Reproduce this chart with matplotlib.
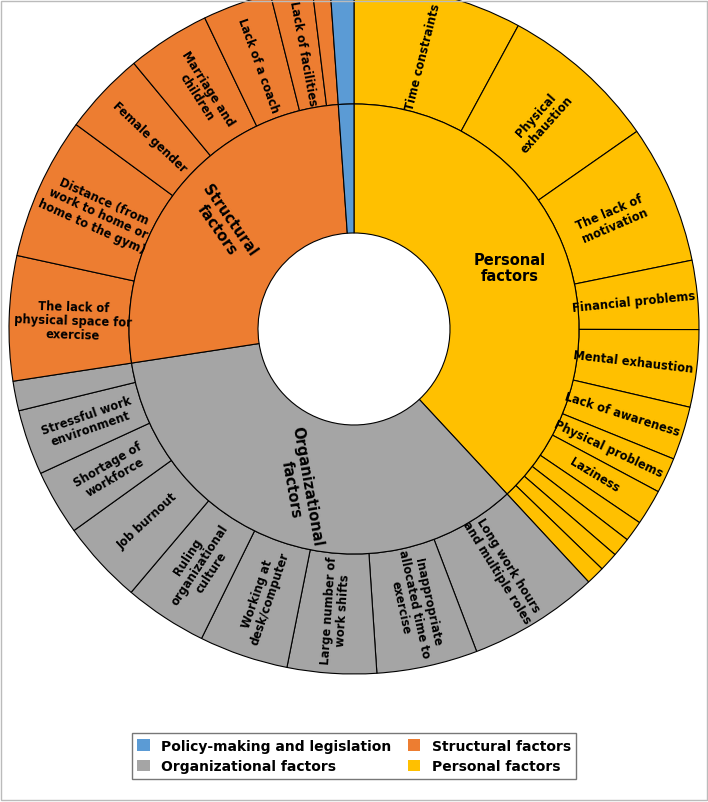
import matplotlib
matplotlib.use("Agg")
import matplotlib.pyplot as plt
from matplotlib.patches import Patch
import numpy as np

groups = ["Personal factors", "Organizational factors", "Structural factors", "Policy-making and legislation"]
group_labels = ["Personal\nfactors", "Organizational\nfactors", "Structural\nfactors", ""]
group_colors = ["#FFC000", "#A5A5A5", "#ED7D31", "#5B9BD5"]

personal_labels = ["Time constraints", "Physical\nexhaustion", "The lack of\nmotivation", "Financial problems",
                   "Mental exhaustion", "Lack of awareness", "Physical problems", "Laziness", "", "", "", ""]
personal_values = [28.4, 26.6, 23.4, 11.6, 13, 9, 6, 6, 3.5, 3.2, 3.2, 3.1]

org_labels = ["Long work hours\nand multiple roles", "Inappropriate\nallocated time to\nexercise", "Large number of\nwork shifts",
              "Working at\ndesk/computer", "Ruling\norganizational\nculture", "Job burnout", "Shortage of\nworkforce",
              "Stressful work\nenvironment", ""]
org_values = [22, 17, 15, 15, 14, 14, 11, 11, 5]

struct_labels = ["The lack of\nphysical space for\nexercise", "Distance (from\nwork to home or\nhome to the gym)",
                 "Female gender", "Marriage and\nchildren", "Lack of a coach", "Lack of facilities", ""]
struct_values = [21, 24, 14, 14, 11.6, 7, 3]

policy_labels = [""]
policy_values = [4]

outer_labels = personal_labels + org_labels + struct_labels + policy_labels
outer_values = personal_values + org_values + struct_values + policy_values
outer_colors = ([group_colors[0]] * len(personal_values) + [group_colors[1]] * len(org_values)
                + [group_colors[2]] * len(struct_values) + [group_colors[3]] * len(policy_values))
inner_values = [sum(personal_values), sum(org_values), sum(struct_values), sum(policy_values)]

W, H = 708, 803
fig = plt.figure(figsize=(W / 100, H / 100), dpi=100)
cx, cy, R = 354, 330, 345
ax = fig.add_axes([(cx - R) / W, (H - cy - R) / H, 2 * R / W, 2 * R / H])
ax.set_aspect("equal")
ax.axis("off")

r_mid = 225 / 345
r_hole = 96 / 345
wp = dict(edgecolor="black", linewidth=0.8)
w_out, _ = ax.pie(outer_values, radius=1.0, colors=outer_colors, startangle=90, counterclock=False,
                  wedgeprops=dict(width=1 - r_mid, **wp))
w_in, _ = ax.pie(inner_values, radius=r_mid, colors=group_colors, startangle=90, counterclock=False,
                 wedgeprops=dict(width=r_mid - r_hole, **wp))
ax.set_xlim(-1.0, 1.0)
ax.set_ylim(-1.0, 1.0)

def place(wedges, labels, rad, fs, rots=None):
    for i, (w, lab) in enumerate(zip(wedges, labels)):
        if not lab:
            continue
        ang = (w.theta1 + w.theta2) / 2
        a = np.deg2rad(ang)
        if rots is not None:
            rot = rots[i]
        else:
            ang_n = (ang + 180) % 360 - 180
            rot = ang_n if -90 <= ang_n <= 90 else ang_n - 180 if ang_n > 0 else ang_n + 180
        ax.text(rad * np.cos(a), rad * np.sin(a), lab, ha="center", va="center", rotation=rot,
                rotation_mode="anchor", fontsize=fs, fontweight="bold", linespacing=1.1)

place(w_out, outer_labels, 0.815, 8.3)
place(w_in, group_labels, (r_mid + r_hole) / 2 + 0.02, 10.5, rots=[0, -80, -55, 0])

handles = [Patch(facecolor=c, edgecolor="none") for c in group_colors]
order = [3, 1, 2, 0]
fig.legend([handles[i] for i in order], [groups[i] for i in order], ncol=2, loc="center",
           bbox_to_anchor=(354 / W, 1 - 757 / H), frameon=True, edgecolor="#555555", fancybox=False,
           prop=dict(size=10, weight="bold"), handlelength=0.9, handleheight=0.9, columnspacing=1.2)
fig.patches.append(plt.Rectangle((0.002, 0.002), 0.996, 0.996, transform=fig.transFigure,
                                 fill=False, edgecolor="#bbbbbb", linewidth=1))
fig.savefig("out.png", dpi=100)
